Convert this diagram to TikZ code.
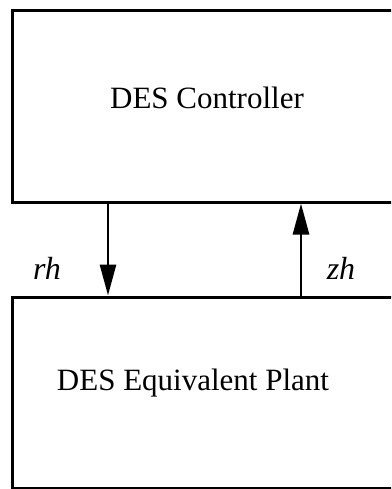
\documentclass[tikz,border=0pt]{standalone}
\usepackage{fontspec}
\setmainfont{Liberation Serif}
\usetikzlibrary{arrows.meta}
\begin{document}
\begin{tikzpicture}[x=1pt,y=-1pt,
  blk/.style={draw=black, line width=3pt, rectangle, inner sep=0pt},
  lbl/.style={font=\fontsize{31}{35}\selectfont, inner sep=0pt},
  sig/.style={font=\fontsize{32}{36}\selectfont\itshape, inner sep=0pt},
  arr/.style={draw=black, line width=2.8pt, -{Triangle[length=31pt,width=16pt]}}]
\useasboundingbox (0,0) rectangle (391,489);
\fill[white] (0,0) rectangle (391,489);
\clip (0,0) rectangle (391,489);
\node[blk, minimum width=390pt, minimum height=191pt] (ctrl) at (207,106.5) {};
\node[blk, minimum width=390pt, minimum height=191pt] (plant) at (207,392.5) {};
\node[lbl] (ctrltxt) at (207,98) {DES Controller};
\node[lbl] (planttxt) at (193,383) {DES Equivalent Plant};
\coordinate (xr) at (108,0);
\coordinate (xz) at (301,0);
\draw[arr] (xr |- ctrl.south) -- (xr |- plant.north);
\draw[arr] (xz |- plant.north) -- (xz |- ctrl.south);
\node[sig] (rh) at (47,268) {rh};
\node[sig] (zh) at (341,268) {zh};
\end{tikzpicture}
\end{document}
